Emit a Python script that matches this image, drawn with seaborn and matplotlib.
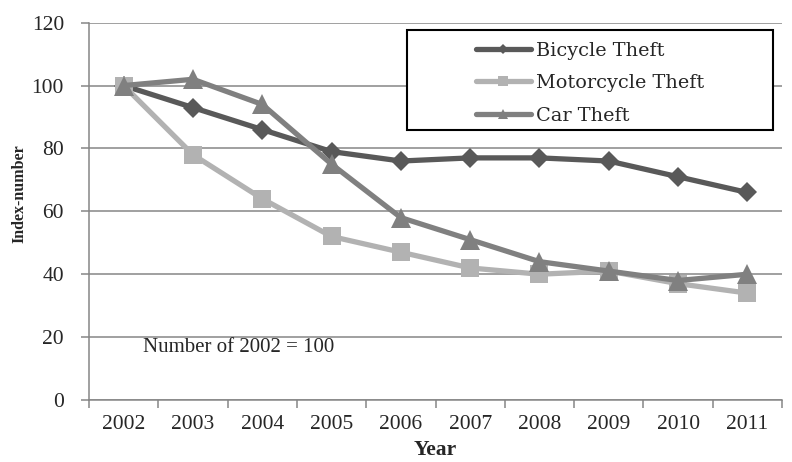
import matplotlib
matplotlib.use('Agg')
import seaborn as sns
import pandas as pd
import matplotlib.pyplot as plt
from matplotlib.patches import Rectangle

# data
years = [2002, 2003, 2004, 2005, 2006, 2007, 2008, 2009, 2010, 2011]
bicycle = [100, 93, 86, 79, 76, 77, 77, 76, 71, 66]
motorcycle = [100, 78, 64, 52, 47, 42, 40, 41, 37, 34]
car = [100, 102, 94, 75, 58, 51, 44, 41, 38, 40]
series_names = ["Bicycle Theft", "Motorcycle Theft", "Car Theft"]

sns.set_style("white")
plt.rcParams['font.family'] = ['Liberation Serif', 'DejaVu Serif']

fig = plt.figure(figsize=(7.92, 4.62), dpi=100)
ax = fig.add_axes([0.1124, 0.1342, 0.875, 0.8167])

# gridlines
ax.set_ylim(0, 120)
ax.set_yticks(range(0, 121, 20))
ax.yaxis.grid(True, color='#868686', linewidth=1.1)
ax.set_axisbelow(True)

# series
df = pd.DataFrame({"Year": years, "Bicycle": bicycle, "Motorcycle": motorcycle, "Car": car})
styles = [
    ("Bicycle", series_names[0], '#595959', 'D', 10),
    ("Motorcycle", series_names[1], '#b2b2b2', 's', 13.5),
    ("Car", series_names[2], '#808080', '^', 14),
]
for col, name, color, mk, ms in styles:
    sns.lineplot(data=df, x="Year", y=col, ax=ax, color=color, linewidth=3.8,
                 marker=mk, markersize=ms, markeredgewidth=0, label=name)

# axes
ax.set_xlim(2001.5, 2011.2)
ax.set_xticks(years)
ax.set_xticklabels([str(y) for y in years])
ax.set_xticks([y - 0.5 for y in years] + [2011.5], minor=True)
ax.tick_params(axis='x', which='major', length=0, pad=11, labelsize=15.5)
ax.tick_params(axis='x', which='minor', length=6, width=1.1, color='#868686', direction='out', bottom=True)
ax.tick_params(axis='y', length=6, width=1.1, color='#868686', direction='out', left=True, pad=12, labelsize=15.5)
for s in ['top', 'right']:
    ax.spines[s].set_visible(False)
for s in ['left', 'bottom']:
    ax.spines[s].set_color('#868686')
    ax.spines[s].set_linewidth(1.1)

ax.set_xlabel("Year", fontsize=15.5, fontweight='bold')
ax.set_ylabel("Index-number", fontsize=11.5, fontweight='bold')
ax.xaxis.set_label_coords(0.5, -0.105)
ax.yaxis.set_label_coords(-0.089, 0.546)

ax.text(0.078, 0.138, "Number of 2002 = 100", transform=ax.transAxes,
        fontsize=15, va='center', ha='left')

# legend with a box like the reference
box = Rectangle((0.459, 0.716), 0.528, 0.265, transform=ax.transAxes,
                facecolor='white', edgecolor='black', linewidth=1.5, zorder=5)
ax.add_patch(box)
leg = ax.legend(loc='upper left', bbox_to_anchor=(0.558, 0.95), frameon=False,
                borderpad=0, borderaxespad=0, handlelength=2.85, handletextpad=0.25,
                labelspacing=0.76, markerscale=0.5,
                prop={'family': 'DejaVu Serif', 'size': 13.9})
leg.set_zorder(6)

plt.savefig("out.png", dpi=100)
